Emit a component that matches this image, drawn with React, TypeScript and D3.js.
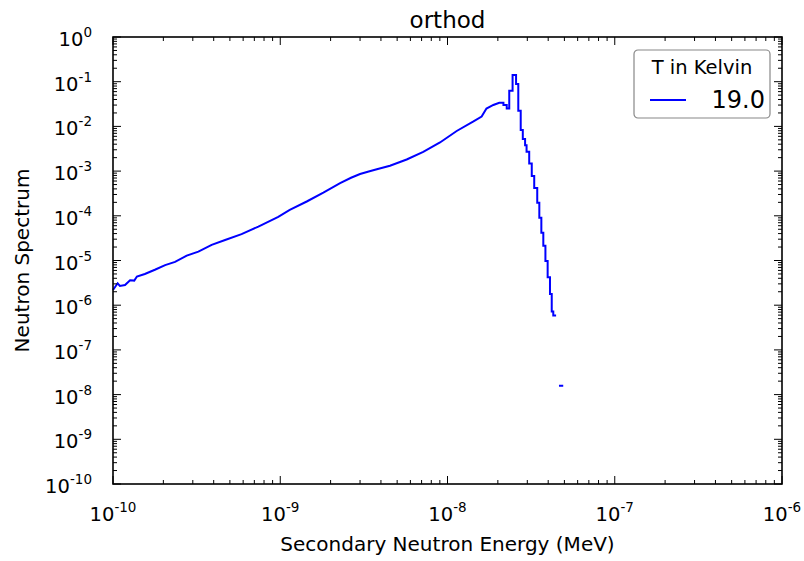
import React from "react";
import * as d3 from "d3";

const chartTitle = "orthod";
const xAxisLabel = "Secondary Neutron Energy (MeV)";
const yAxisLabel = "Neutron Spectrum";
const legendTitle = "T in Kelvin";
const seriesName = "19.0";

const xDomain = [1e-10, 1e-6];
const yDomain = [1e-10, 1];
const xTickExponents = [-10, -9, -8, -7, -6];
const yTickExponents = [0, -1, -2, -3, -4, -5, -6, -7, -8, -9, -10];

// smooth (finely binned) part of the spectrum: energy (MeV) and value
const smoothEnergy = [
  1.0e-10, 1.066e-10, 1.1e-10, 1.18e-10, 1.265e-10, 1.34e-10, 1.39e-10, 1.55e-10,
  1.78e-10, 2.05e-10, 2.35e-10, 2.76e-10, 3.24e-10, 3.89e-10, 4.68e-10, 5.87e-10,
  7.4e-10, 9.73e-10, 1.14e-9, 1.44e-9, 1.81e-9, 2.28e-9, 2.65e-9, 3.0e-9, 3.38e-9, 3.78e-9,
  4.53e-9, 5.7e-9, 7.16e-9, 9.02e-9, 1.135e-8, 1.43e-8, 1.6e-8, 1.71e-8, 1.88e-8,
];
const smoothSpectrum = [
  2.19e-6, 3.09e-6, 2.69e-6, 2.82e-6, 3.63e-6, 3.55e-6, 4.37e-6, 5.0e-6,
  6.2e-6, 7.9e-6, 9.3e-6, 1.29e-5, 1.58e-5, 2.24e-5, 2.88e-5, 3.9e-5,
  5.75e-5, 9.5e-5, 1.35e-4, 2.09e-4, 3.31e-4, 5.4e-4, 7.1e-4, 8.6e-4, 9.8e-4, 1.1e-3,
  1.32e-3, 1.82e-3, 2.69e-3, 4.37e-3, 7.9e-3, 1.29e-2, 1.66e-2, 2.51e-2, 3.02e-2,
];

// coarse histogram bins around the peak and the tail (0 = empty bin)
const binEdges = [
  2.04e-8, 2.16e-8, 2.26e-8, 2.34e-8, 2.45e-8, 2.57e-8, 2.65e-8, 2.74e-8, 2.82e-8,
  2.91e-8, 2.97e-8, 3.08e-8, 3.19e-8, 3.3e-8, 3.44e-8, 3.54e-8, 3.64e-8, 3.74e-8,
  3.85e-8, 3.97e-8, 4.1e-8, 4.2e-8, 4.29e-8, 4.46e-8, 4.64e-8, 4.92e-8,
];
const binSpectrum = [
  3.39e-2, 3.02e-2, 2.51e-2, 6.31e-2, 1.41e-1, 8.91e-2, 2.24e-2, 8.3e-3,
  5.2e-3, 3.8e-3, 2.7e-3, 1.48e-3, 7.8e-4, 4.2e-4, 1.95e-4, 9.1e-5, 4.2e-5,
  2.14e-5, 9.8e-6, 4.2e-6, 1.78e-6, 7.2e-7, 5.9e-7, 0, 1.58e-8,
];

const W = 804;
const H = 561;
const M = { left: 113, top: 37, right: 22, bottom: 77 };
const FONT = "DejaVu Sans, Verdana, sans-serif";

export default function App() {
  React.useEffect(() => {
    document.body.style.margin = "0";
  }, []);

  const iw = W - M.left - M.right;
  const ih = H - M.top - M.bottom;
  const x = d3.scaleLog().domain(xDomain).range([0, iw]);
  const y = d3.scaleLog().domain(yDomain).range([ih, 0]);

  const pts: [number, number][] = [];
  smoothEnergy.forEach((e, i) => pts.push([e, smoothSpectrum[i]]));
  binSpectrum.forEach((v, i) => {
    pts.push([binEdges[i], v]);
    pts.push([binEdges[i + 1], v]);
  });
  const line = d3
    .line<[number, number]>()
    .defined((d) => d[1] > 0)
    .x((d) => x(d[0]))
    .y((d) => y(d[1]));

  const minorX: number[] = [];
  for (let e = -10; e < -6; e++) for (let k = 2; k <= 9; k++) minorX.push(k * Math.pow(10, e));
  const minorY: number[] = [];
  for (let e = -10; e < 0; e++) for (let k = 2; k <= 9; k++) minorY.push(k * Math.pow(10, e));

  const majorLen = 8;
  const minorLen = 4;
  const tickStroke = { stroke: "#000", strokeWidth: 1 };

  return (
    <div style={{ position: "absolute", left: 0, top: 0 }}>
      <svg width={W} height={H} style={{ display: "block", background: "#fff" }} fontFamily={FONT}>
        <rect width={W} height={H} fill="#fff" />
        <text x={M.left + iw / 2} y={28} textAnchor="middle" fontSize={23} fill="#000">
          {chartTitle}
        </text>
        <g transform={`translate(${M.left},${M.top})`}>
          <path d={line(pts) || ""} fill="none" stroke="#0000ff" strokeWidth={2} strokeLinejoin="miter" />

          {/* ticks */}
          {xTickExponents.map((e) => {
            const px = x(Math.pow(10, e));
            return (
              <g key={"xt" + e}>
                <line x1={px} x2={px} y1={ih} y2={ih - majorLen} {...tickStroke} />
                <line x1={px} x2={px} y1={0} y2={majorLen} {...tickStroke} />
              </g>
            );
          })}
          {minorX.map((v, i) => {
            const px = x(v);
            return (
              <g key={"xm" + i}>
                <line x1={px} x2={px} y1={ih} y2={ih - minorLen} {...tickStroke} />
                <line x1={px} x2={px} y1={0} y2={minorLen} {...tickStroke} />
              </g>
            );
          })}
          {yTickExponents.map((e) => {
            const py = y(Math.pow(10, e));
            return (
              <g key={"yt" + e}>
                <line x1={0} x2={majorLen} y1={py} y2={py} {...tickStroke} />
                <line x1={iw} x2={iw - majorLen} y1={py} y2={py} {...tickStroke} />
              </g>
            );
          })}
          {minorY.map((v, i) => {
            const py = y(v);
            return (
              <g key={"ym" + i}>
                <line x1={0} x2={minorLen} y1={py} y2={py} {...tickStroke} />
                <line x1={iw} x2={iw - minorLen} y1={py} y2={py} {...tickStroke} />
              </g>
            );
          })}

          <rect x={0} y={0} width={iw} height={ih} fill="none" stroke="#000" strokeWidth={1.6} />

          {/* tick labels */}
          {xTickExponents.map((e) => (
            <text key={"xl" + e} x={x(Math.pow(10, e))} y={ih + 37} textAnchor="middle" fontSize={19.5} fill="#000">
              <tspan>10</tspan>
              <tspan fontSize={13.5} dy={-9}>{String(e)}</tspan>
            </text>
          ))}
          {yTickExponents.map((e) => (
            <text key={"yl" + e} x={-21} y={y(Math.pow(10, e)) + 9} textAnchor="end" fontSize={19.5} fill="#000">
              <tspan>10</tspan>
              <tspan fontSize={13.5} dy={-9}>{String(e)}</tspan>
            </text>
          ))}

          {/* legend */}
          <g transform={`translate(${iw - 148},13)`}>
            <rect x={0} y={0} width={136} height={68} rx={4} fill="#fff" stroke="#888" strokeWidth={1.2} />
            <text x={68} y={24} textAnchor="middle" fontSize={19.5} fill="#000">
              {legendTitle}
            </text>
            <line x1={16} x2={52} y1={50} y2={50} stroke="#0000ff" strokeWidth={2} />
            <text x={131} y={58} textAnchor="end" fontSize={24} fill="#000">
              {seriesName}
            </text>
          </g>
        </g>
        <text x={M.left + iw / 2} y={551} textAnchor="middle" fontSize={20} fill="#000">
          {xAxisLabel}
        </text>
        <text
          transform={`translate(29,${M.top + ih / 2}) rotate(-90)`}
          textAnchor="middle"
          fontSize={20}
          fill="#000"
        >
          {yAxisLabel}
        </text>
      </svg>
    </div>
  );
}
